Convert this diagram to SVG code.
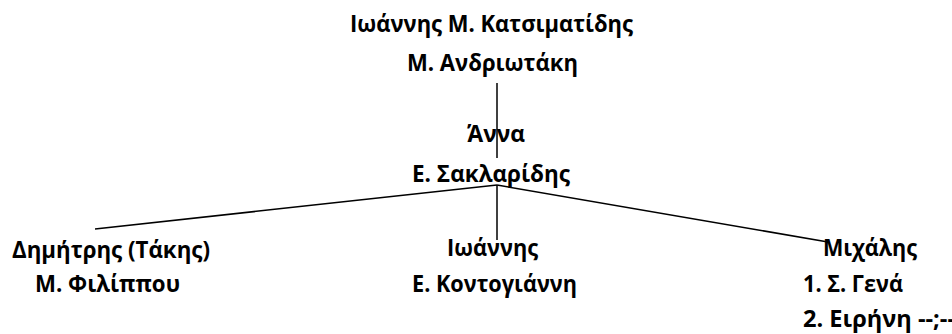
<svg xmlns="http://www.w3.org/2000/svg" width="952" height="334" viewBox="0 0 952 334">
<style>
text{font-family:"Open Sans","Noto Sans","DejaVu Sans",sans-serif;font-weight:bold;font-size:23px;fill:#000}
.c line{stroke:#000;stroke-width:1.5}
</style>
<rect width="952" height="334" fill="#fff"/>
<g class="c" id="connectors">
<line x1="497" y1="83" x2="497" y2="158"/>
<line x1="497" y1="185" x2="95" y2="229"/>
<line x1="497" y1="185" x2="497" y2="240"/>
<line x1="497" y1="185" x2="828" y2="242"/>
</g>
<g id="n-ioannis-top">
<text x="350" y="32" textLength="283" lengthAdjust="spacingAndGlyphs">Ιωάννης Μ. Κατσιματίδης</text>
<text x="407" y="71" textLength="171" lengthAdjust="spacingAndGlyphs">Μ. Ανδριωτάκη</text>
</g>
<g id="n-anna">
<text x="467" y="142" textLength="58" lengthAdjust="spacingAndGlyphs">Άννα</text>
<text x="412" y="182" textLength="158" lengthAdjust="spacingAndGlyphs">Ε. Σακλαρίδης</text>
</g>
<g id="n-dimitris">
<text x="12" y="258" textLength="198" lengthAdjust="spacingAndGlyphs">Δημήτρης (Τάκης)</text>
<text x="35" y="292" textLength="145" lengthAdjust="spacingAndGlyphs">Μ. Φιλίππου</text>
</g>
<g id="n-ioannis">
<text x="447" y="256" textLength="91" lengthAdjust="spacingAndGlyphs">Ιωάννης</text>
<text x="412" y="292" textLength="165" lengthAdjust="spacingAndGlyphs">Ε. Κοντογιάννη</text>
</g>
<g id="n-michalis">
<text x="823" y="256" textLength="94" lengthAdjust="spacingAndGlyphs">Μιχάλης</text>
<text x="803" y="292" textLength="100" lengthAdjust="spacingAndGlyphs">1. Σ. Γενά</text>
<text x="803" y="327" textLength="152" lengthAdjust="spacingAndGlyphs">2. Ειρήνη --;--</text>
</g>
</svg>
